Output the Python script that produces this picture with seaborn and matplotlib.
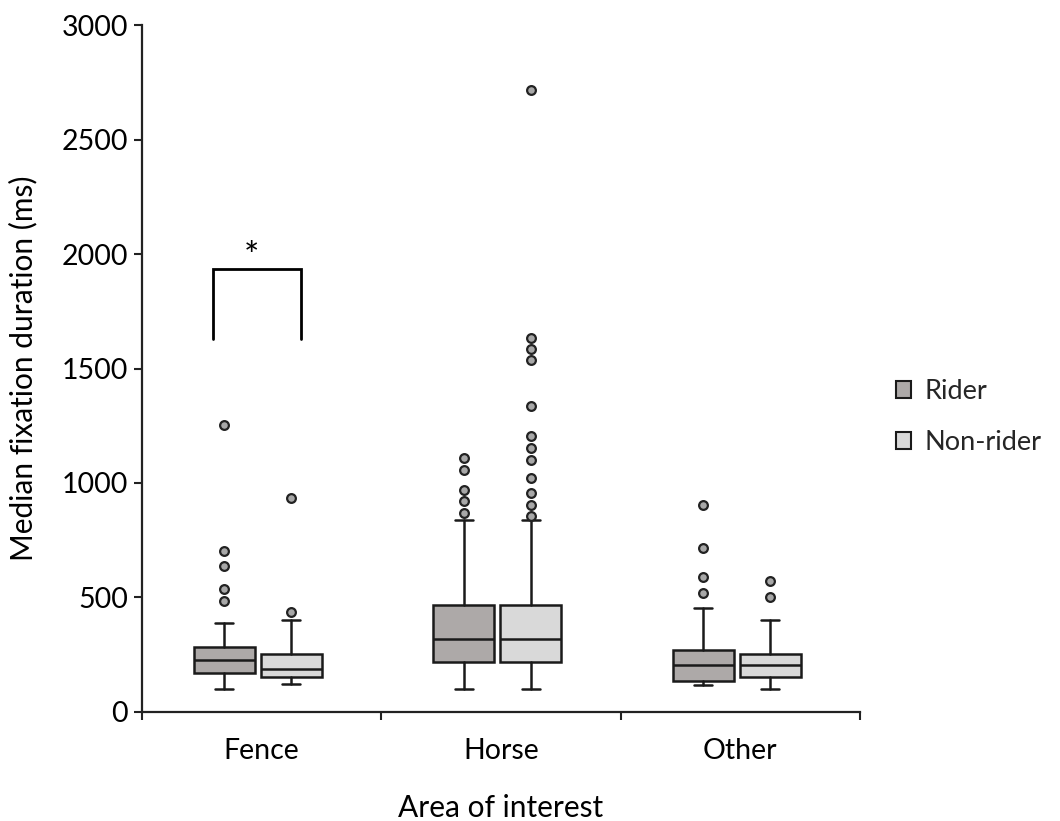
import matplotlib
matplotlib.use("Agg")
import matplotlib.pyplot as plt
from matplotlib.patches import Patch
import seaborn as sns

# ---- data (ms) ----
categories = ["Fence", "Horse", "Other"]
groups = ["Rider", "Non-rider"]

# per category: [Rider, Non-rider]
whislo = [[102, 121], [102, 102], [119, 102]]
q1 = [[169, 154], [219, 219], [135, 151]]
med = [[227, 186], [319, 319], [205, 205]]
q3 = [[285, 253], [469, 469], [269, 253]]
whishi = [[387, 402], [837, 837], [453, 402]]
fliers = [
    [[1253, 703, 638, 536, 486], [936, 437]],
    [[1107, 1056, 969, 920, 870],
     [2717, 1635, 1587, 1535, 1337, 1204, 1153, 1102, 1021, 955, 905, 855]],
    [[903, 718, 588, 518], [572, 502]],
]

fill_colors = ["#ADA9A8", "#D9D9D9"]
edge = "#1a1a1a"

sns.set_theme(style="ticks")
plt.rcParams["font.family"] = ["Lato", "DejaVu Sans"]

fig = plt.figure(figsize=(10.6, 8.21), dpi=100)
ax = fig.add_axes([0.1338, 0.1328, 0.6775, 0.8367])

offsets = [-0.155, 0.125]
width = 0.255
for gi, grp in enumerate(groups):
    stats = []
    pos = []
    for ci, cat in enumerate(categories):
        stats.append(dict(med=med[ci][gi], q1=q1[ci][gi], q3=q3[ci][gi],
                          whislo=whislo[ci][gi], whishi=whishi[ci][gi],
                          fliers=fliers[ci][gi], label=cat))
        pos.append(ci + offsets[gi])
    ax.bxp(stats, positions=pos, widths=width, capwidths=0.075,
           patch_artist=True, manage_ticks=False,
           boxprops=dict(facecolor=fill_colors[gi], edgecolor=edge, linewidth=1.8),
           medianprops=dict(color=edge, linewidth=1.8),
           whiskerprops=dict(color=edge, linewidth=1.8),
           capprops=dict(color=edge, linewidth=1.8),
           flierprops=dict(marker="o", markersize=6.3, markerfacecolor="#A8A8A8",
                           markeredgecolor="#222222", markeredgewidth=1.6))

# significance bracket
bx0, bx1, by0, by1 = -0.203, 0.167, 1627, 1935
ax.plot([bx0, bx0, bx1, bx1], [by0, by1, by1, by0], color="black", lw=2,
        solid_joinstyle="miter", clip_on=False)
ax.text(-0.04, 1985, "*", ha="center", va="center", fontsize=26, color="black")

ax.set_xlim(-0.5, 2.5)
ax.set_ylim(0, 3000)
ax.set_yticks([0, 500, 1000, 1500, 2000, 2500, 3000])
ax.set_xticks([0, 1, 2])
ax.set_xticklabels(categories)
ax.set_xticks([-0.5, 0.5, 1.5, 2.5], minor=True)
ax.tick_params(axis="x", which="major", length=0, pad=19, labelsize=20.5, colors="black")
ax.tick_params(axis="x", which="minor", length=6, width=1.5, color="#222222")
ax.tick_params(axis="y", length=6, width=1.5, labelsize=20.5, color="#222222",
               labelcolor="black", pad=4)
for s in ["left", "bottom"]:
    ax.spines[s].set_linewidth(1.6)
    ax.spines[s].set_color("#222222")
sns.despine(ax=ax)

ax.set_xlabel("Area of interest", fontsize=21.5, labelpad=21, color="black")
ax.set_ylabel("Median fixation duration (ms)", fontsize=21.5, labelpad=17, color="black")

handles = [Patch(facecolor=fill_colors[i], edgecolor=edge, linewidth=1.5, label=g)
           for i, g in enumerate(groups)]
fig.legend(handles=handles, loc="center left", bbox_to_anchor=(0.822, 0.492),
           frameon=False, fontsize=19.5, handlelength=0.55, handleheight=0.55,
           handletextpad=0.5, labelspacing=0.95)

fig.savefig("out.png", dpi=100)
